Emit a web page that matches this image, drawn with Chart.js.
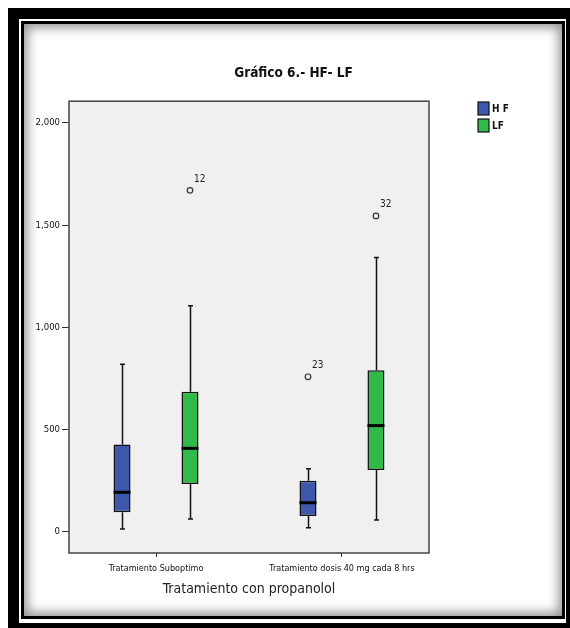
<!DOCTYPE html>
<html>
<head>
<meta charset="utf-8">
<script src="https://cdn.jsdelivr.net/npm/chart.js@4"></script>
<style>
html, body { margin: 0; padding: 0; background: #fff; overflow: hidden; }
#wrap { position: relative; width: 570px; height: 628px; overflow: hidden; }
#outer { position: absolute; left: 8px; top: 8px; width: 547px; height: 604px; border: 11px solid #000; }
#inner { position: absolute; left: 21px; top: 21px; width: 538px; height: 592px; border: 3px solid #000;
         box-shadow: inset 0 0 12px 3px rgba(0,0,0,0.45); }
#result { position: absolute; left: 0; top: 0; }
</style>
</head>
<body>
<div id="wrap">
  <div id="outer"></div>
  <div id="inner"></div>
  <canvas id="result" width="570" height="628"></canvas>
</div>
<script>
// data
var categories = ['Tratamiento Suboptímo', 'Tratamiento dosis 40 mg cada 8 hrs'];
var yTicks = [0, 500, 1000, 1500, 2000];

var hfMin = [13, 20];
var hfQ1 = [95, 77];
var hfMedian = [193, 142];
var hfQ3 = [427, 250];
var hfMax = [819, 308];
var hfOutliers = [[], [758]];
var hfOutlierIds = [[], ['23']];

var lfMin = [62, 57];
var lfQ1 = [233, 302];
var lfMedian = [408, 519];
var lfQ3 = [685, 790];
var lfMax = [1106, 1342];
var lfOutliers = [[1670], [1545]];
var lfOutlierIds = [['12'], ['32']];

var narrow = "'Liberation Sans Narrow', 'DejaVu Sans Condensed', 'Arial Narrow', sans-serif";

function makeBox(label, color, min, q1, med, q3, max, out, ids) {
    return {
        label: label,
        backgroundColor: color,
        borderColor: '#111',
        borderWidth: 1.5,
        borderSkipped: false,
        categoryPercentage: 0.731,
        barPercentage: 0.25,
        data: categories.map(function(c, j) { return { x: j, y: [q1[j], q3[j]] }; }),
        // extra stats used by the plugin below
        stats: { min: min, med: med, max: max, out: out, ids: ids }
    };
}

var boxplotPlugin = {
    id: 'boxplot',
    beforeDraw: function(chart) {
        var a = chart.chartArea, ctx = chart.ctx;
        ctx.save();
        ctx.fillStyle = '#f0f0f0';
        ctx.fillRect(a.left, a.top, a.right - a.left, a.bottom - a.top);
        ctx.restore();
    },
    beforeDatasetsDraw: function(chart) {
        var ctx = chart.ctx, y = chart.scales.y;
        ctx.save();
        ctx.strokeStyle = '#111';
        ctx.lineWidth = 1.5;
        chart.data.datasets.forEach(function(ds, i) {
            chart.getDatasetMeta(i).data.forEach(function(el, j) {
                var s = ds.stats, x = Math.round(el.x) + 0.5;
                var yMax = y.getPixelForValue(s.max[j]), yMin = y.getPixelForValue(s.min[j]);
                ctx.beginPath();
                ctx.moveTo(x, yMax); ctx.lineTo(x, y.getPixelForValue(ds.data[j].y[1]));
                ctx.moveTo(x, yMin); ctx.lineTo(x, y.getPixelForValue(ds.data[j].y[0]));
                ctx.moveTo(x - 2.5, yMax); ctx.lineTo(x + 2.5, yMax);
                ctx.moveTo(x - 2.5, yMin); ctx.lineTo(x + 2.5, yMin);
                ctx.stroke();
            });
        });
        ctx.restore();
    },
    afterDatasetsDraw: function(chart) {
        var ctx = chart.ctx, y = chart.scales.y, a = chart.chartArea;
        ctx.save();
        chart.data.datasets.forEach(function(ds, i) {
            chart.getDatasetMeta(i).data.forEach(function(el, j) {
                var s = ds.stats;
                var ym = y.getPixelForValue(s.med[j]);
                ctx.strokeStyle = '#000';
                ctx.lineWidth = 3;
                ctx.beginPath();
                ctx.moveTo(el.x - el.width / 2, ym); ctx.lineTo(el.x + el.width / 2, ym);
                ctx.stroke();
                s.out[j].forEach(function(v, k) {
                    var yo = y.getPixelForValue(v);
                    ctx.strokeStyle = '#333';
                    ctx.lineWidth = 1.2;
                    ctx.beginPath();
                    ctx.arc(el.x, yo, 2.8, 0, Math.PI * 2);
                    ctx.stroke();
                    ctx.fillStyle = '#222';
                    ctx.font = '10px ' + narrow;
                    ctx.textBaseline = 'middle';
                    ctx.textAlign = 'left';
                    ctx.fillText(s.ids[j][k], el.x + 4, yo - 11);
                });
            });
        });
        // plot frame
        ctx.strokeStyle = '#444';
        ctx.lineWidth = 1.5;
        ctx.strokeRect(a.left, a.top, a.right - a.left, a.bottom - a.top);
        ctx.restore();
    },
    afterDraw: function(chart) {
        // legend at the top right, like the original
        var ctx = chart.ctx;
        ctx.save();
        chart.data.datasets.forEach(function(ds, i) {
            var lx = 478, ly = 102 + i * 17;
            ctx.fillStyle = ds.backgroundColor;
            ctx.fillRect(lx, ly, 11, 13);
            ctx.strokeStyle = '#111';
            ctx.lineWidth = 1.2;
            ctx.strokeRect(lx, ly, 11, 13);
            ctx.fillStyle = '#111';
            ctx.font = 'bold 10px ' + narrow;
            ctx.textBaseline = 'middle';
            ctx.fillText(ds.label, lx + 14, ly + 7);
        });
        ctx.restore();
    }
};

var ctx = document.getElementById('result').getContext('2d');
var chart = new Chart(ctx, {
    type: 'bar',
    data: {
        datasets: [
            makeBox('H F', '#3e58ac', hfMin, hfQ1, hfMedian, hfQ3, hfMax, hfOutliers, hfOutlierIds),
            makeBox('LF', '#31b94a', lfMin, lfQ1, lfMedian, lfQ3, lfMax, lfOutliers, lfOutlierIds)
        ]
    },
    options: {
        responsive: false,
        animation: false,
        layout: { padding: { left: 17, right: 0, top: 0, bottom: 0 } },
        plugins: {
            legend: { display: false },
            tooltip: { enabled: false },
            title: {
                display: true,
                text: 'Gráfico 6.- HF- LF',
                color: '#111',
                font: { family: narrow, size: 13.5, weight: 'bold' },
                padding: { top: 65, bottom: 20 }
            }
        },
        scales: {
            x: {
                type: 'linear',
                min: -0.468,
                max: 1.468,
                offset: false,
                afterBuildTicks: function(s) { s.ticks = categories.map(function(c, i) { return { value: i }; }); },
                afterFit: function(s) { s.height = 75; },
                ticks: {
                    callback: function(v) { return categories[v]; },
                    color: '#111',
                    font: { family: narrow, size: 9 },
                    padding: 6,
                    maxRotation: 0,
                    autoSkip: false
                },
                grid: { drawOnChartArea: false, offset: false, tickLength: 4, color: '#333' },
                border: { display: false },
                title: {
                    display: true,
                    text: 'Tratamiento con propanolol',
                    color: '#222',
                    font: { family: narrow, size: 14 },
                    padding: { top: 0, bottom: 30 }
                }
            },
            y: {
                min: -104,
                max: 2106,
                afterBuildTicks: function(s) { s.ticks = yTicks.map(function(v) { return { value: v }; }); },
                afterFit: function(s) { s.width = 52; },
                ticks: {
                    callback: function(v) { return v.toLocaleString('en-US'); },
                    color: '#111',
                    font: { family: narrow, size: 9.5 },
                    padding: 2
                },
                grid: { drawOnChartArea: false, tickLength: 7, color: '#333' },
                border: { display: false }
            },
            // empty axis that only keeps the right-hand space free for the legend
            yRight: {
                type: 'linear',
                position: 'right',
                afterFit: function(s) { s.width = 141; },
                ticks: { display: false },
                grid: { display: false },
                border: { display: false }
            }
        }
    },
    plugins: [boxplotPlugin]
});
</script>
</body>
</html>
